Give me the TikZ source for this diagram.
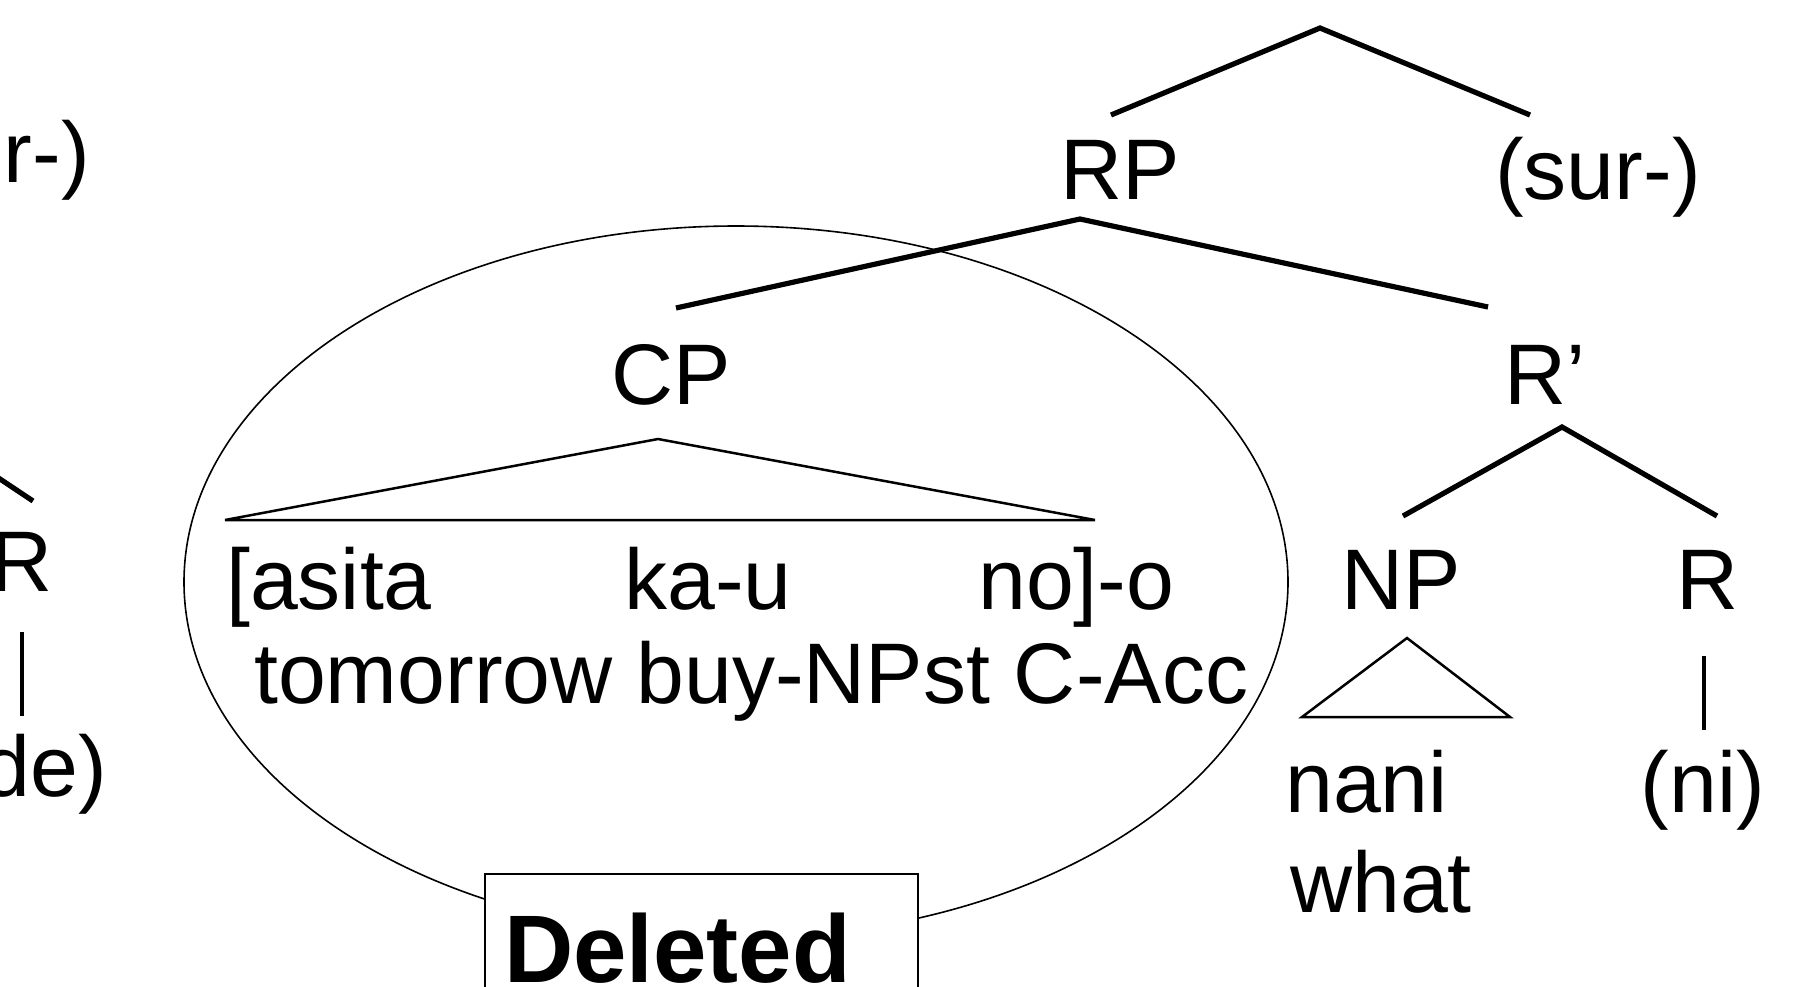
\documentclass[tikz,border=0pt]{standalone}
\usepackage{fontspec}
\setmainfont{Liberation Sans}
\begin{document}
\begin{tikzpicture}[x=1pt,y=-1pt,
  lbl/.style={font=\fontsize{86}{100}\selectfont, inner sep=0pt, anchor=base},
  lblw/.style={lbl, anchor=base west},
  lble/.style={lbl, anchor=base east},
  branch/.style={line width=5.2pt},
  roof/.style={line width=2.5pt},
  unary/.style={line width=4.5pt},
  ring/.style={line width=1.6pt},
  tag/.style={draw, line width=1.6pt, fill=white}]
\useasboundingbox (0,0) rectangle (1811,986);
\clip (0,0) rectangle (1811,986);

% deletion ellipse round the CP
\draw[ring] (736,582) ellipse [x radius=552, y radius=356];

% previous tree, partly off the left edge
\node[lble] (lsur) at (90,182) {r-)};
\node[lble] (lr) at (53,591) {R};
\node[lble] (lde) at (107,796) {de)};
\coordinate (lbr-a) at (-12,471);
\coordinate (lbr-b) at (33,501);
\coordinate (lun-a) at (22,632);
\coordinate (lun-b) at (22,716);
\draw[branch] (lbr-a) -- (lbr-b);
\draw[unary] (lun-a) -- (lun-b);

% tree nodes
\node[lbl] (rp) at (1120,199) {RP};
\node[lbl] (sur) at (1598,199) {(sur-)};
\node[lbl] (cp) at (671,404) {CP};
\node[lbl] (rbar) at (1545,404) {R’};
\node[lbl] (np) at (1401,609) {NP};
\node[lbl] (r) at (1708,609) {R};
\node[lblw] (nani) at (1285,812) {nani};
\node[lblw] (what) at (1290,912) {what};
\node[lbl] (ni) at (1703,812) {(ni)};

% CP content
\node[lblw] (asita) at (226,609) {[asita};
\node[lblw] (kau) at (624,609) {ka-u};
\node[lblw] (noo) at (978,609) {no]-o};
\node[lblw] (gloss) at (254,703) {tomorrow buy-NPst C-Acc};

% branch points
\coordinate (top-apex) at (1320,28);
\coordinate (top-l) at (1111,115);
\coordinate (top-r) at (1530,115);
\coordinate (rp-apex) at (1080,219);
\coordinate (rp-l) at (676,308);
\coordinate (rp-r) at (1488,307);
\coordinate (rb-apex) at (1562,427);
\coordinate (rb-l) at (1403,516);
\coordinate (rb-r) at (1717,516);
\coordinate (cp-apex) at (658,439);
\coordinate (cp-l) at (225,520);
\coordinate (cp-r) at (1095,520);
\coordinate (np-apex) at (1407,638);
\coordinate (np-l) at (1302,717);
\coordinate (np-r) at (1510,717);
\coordinate (r-a) at (1704,656);
\coordinate (r-b) at (1704,730);

% branches
\draw[branch] (top-l) -- (top-apex) -- (top-r);
\draw[branch] (rp-l) -- (rp-apex) -- (rp-r);
\draw[branch] (rb-l) -- (rb-apex) -- (rb-r);
\draw[roof] (cp-l) -- (cp-apex) -- (cp-r) -- cycle;
\draw[roof] (np-l) -- (np-apex) -- (np-r) -- cycle;
\draw[unary] (r-a) -- (r-b);

% label box on the ellipse
\path[tag] (485,874) rectangle (918,1010);
\node[font=\fontsize{96}{110}\selectfont\bfseries, inner sep=0pt, anchor=base west] (del) at (504,982) {Deleted};
\end{tikzpicture}
\end{document}
